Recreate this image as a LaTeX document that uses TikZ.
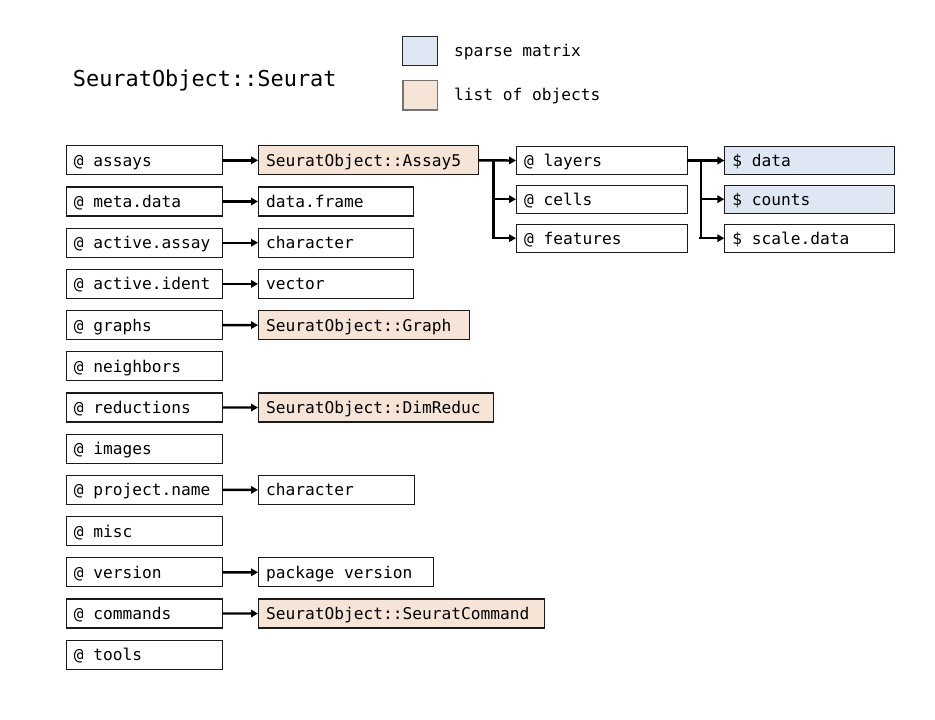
\documentclass[tikz,border=0pt]{standalone}
\usepackage{fontspec}
\newfontfamily\monofnt{DejaVu Sans Mono}
\usetikzlibrary{arrows.meta}
\definecolor{sparseblue}{HTML}{DFE7F4}
\definecolor{listpeach}{HTML}{F6E4D7}
\definecolor{boxline}{HTML}{1A1A1A}
\newcommand\lbx[2]{\makebox[#1][l]{#2}}
\tikzset{
  box/.style={draw=boxline, line width=1.1pt, rectangle, anchor=west, minimum height=29pt,
    inner xsep=7.5pt, inner ysep=0pt, text height=14pt, text depth=2.1pt,
    font=\monofnt\fontsize{16.2}{19}\selectfont},
  sbox/.style={box, minimum height=28pt},
  peach/.style={fill=listpeach},
  blue/.style={fill=sparseblue},
  arr/.style={line width=2.4pt, -{Triangle[length=7pt,width=7.5pt]}, shorten <=-0.5pt},
  conn/.style={line width=2.4pt},
  legtext/.style={anchor=west, inner sep=0pt, text height=14pt, text depth=2.1pt,
    font=\monofnt\fontsize{16.2}{19}\selectfont},
}
\begin{document}
\begin{tikzpicture}[x=1pt,y=-1pt]
\useasboundingbox (0,0) rectangle (935,720);
% title
\node[anchor=base west, inner sep=0pt, font=\monofnt\fontsize{21.9}{26}\selectfont] (title) at (72.7,86.7) {SeuratObject::Seurat};
% legend
\node[draw=black!85, fill=sparseblue, line width=1.1pt, minimum width=34.4pt, minimum height=29.3pt, inner sep=0pt, anchor=north west] (legs) at (402.3,35.7) {};
\node[draw=black!55, fill=listpeach, line width=1.3pt, minimum width=34.4pt, minimum height=29.3pt, inner sep=0pt, anchor=north west] (legl) at (402.3,80) {};
\node[legtext] (legst) at (454,50.3) {sparse matrix};
\node[legtext] (leglt) at (454,94.7) {list of objects};
% left column
\foreach \nm/\txt [count=\i from 0] in {assays/assays, meta/meta.data, aassay/active.assay, aident/active.ident, graphs/graphs, neigh/neighbors, red/reductions, images/images, proj/project.name, misc/misc, vers/version, cmds/commands, tools/tools}{
  \node[box] (\nm) at (65.7,{160.3+41.2*\i}) {\lbx{141pt}{@ \txt}};
}
% second column
\node[box, peach] (assay5) at (258,160.3) {\lbx{205.3pt}{SeuratObject::Assay5}};
\node[box] (dframe) at (258,201.5) {\lbx{140.3pt}{data.frame}};
\node[box] (char1) at (258,242.7) {\lbx{140.3pt}{character}};
\node[box] (vect) at (258,283.9) {\lbx{140.3pt}{vector}};
\node[box, peach] (graph) at (258,325.1) {\lbx{196.3pt}{SeuratObject::Graph}};
\node[box, peach] (dimred) at (258,407.5) {\lbx{220.3pt}{SeuratObject::DimReduc}};
\node[box] (char2) at (258,489.9) {\lbx{141.3pt}{character}};
\node[box] (pkgv) at (258,572.3) {\lbx{159.7pt}{package version}};
\node[box, peach] (scmd) at (258,613.5) {\lbx{271.3pt}{SeuratObject::SeuratCommand}};
% assay slots
\node[sbox] (layers) at (516,160.5) {\lbx{155.7pt}{@ layers}};
\node[sbox] (cells) at (516,199.2) {\lbx{155.7pt}{@ cells}};
\node[sbox] (feats) at (516,238.2) {\lbx{155.7pt}{@ features}};
% layers
\node[sbox, blue] (data) at (724.3,160.5) {\lbx{155pt}{\$ data}};
\node[sbox, blue] (counts) at (724.3,199.2) {\lbx{155pt}{\$ counts}};
\node[sbox] (scale) at (724.3,238.2) {\lbx{155pt}{\$ scale.data}};
% connectors
\draw[arr] (assays.east) -- (assay5.west);
\draw[arr] (meta.east) -- (dframe.west);
\draw[arr] (aassay.east) -- (char1.west);
\draw[arr] (aident.east) -- (vect.west);
\draw[arr] (graphs.east) -- (graph.west);
\draw[arr] (red.east) -- (dimred.west);
\draw[arr] (proj.east) -- (char2.west);
\draw[arr] (vers.east) -- (pkgv.west);
\draw[arr] (cmds.east) -- (scmd.west);
% branch from Assay5
\coordinate (j1) at (493.3,160.5);
\draw[arr] (assay5.east) -- (layers.west);
\draw[conn] (j1) -- (j1 |- feats.west);
\draw[arr] (j1 |- cells.west) -- (cells.west);
\draw[arr] ([xshift=-1.2pt]j1 |- feats.west) -- (feats.west);
% branch from layers
\coordinate (j2) at (701,160.5);
\draw[arr] (layers.east) -- (data.west);
\draw[conn] (j2) -- (j2 |- scale.west);
\draw[arr] (j2 |- counts.west) -- (counts.west);
\draw[arr] ([xshift=-1.2pt]j2 |- scale.west) -- (scale.west);
\end{tikzpicture}
\end{document}
